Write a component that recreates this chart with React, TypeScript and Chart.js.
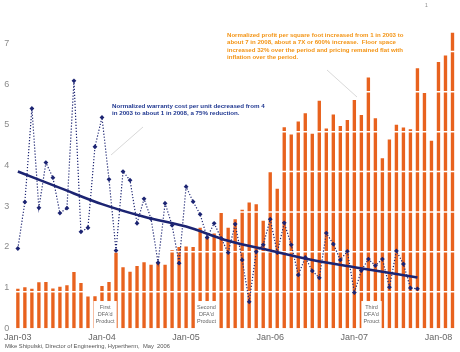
import React, { useEffect, useRef } from 'react';
import { Chart, registerables } from 'chart.js';

Chart.register(...registerables);

// ---------- data ----------
const monthNames = ['Jan', 'Feb', 'Mar', 'Apr', 'May', 'Jun', 'Jul', 'Aug', 'Sep', 'Oct', 'Nov', 'Dec'];
const yearSuffixes = ['03', '04', '05', '06', '07', '08'];
const monthCount = 63;

const categories: string[] = [];
yearSuffixes.forEach((y) => monthNames.forEach((m) => categories.push(`${m}-${y}`)));
categories.length = monthCount;

// Normalized profit per square foot (orange bars)
const profitPerSqFt = [
  0.97, 1.01, 0.97, 1.13, 1.14, 0.98, 1.02, 1.06, 1.38, 1.11, 0.78, 0.79,
  1.04, 1.14, 1.86, 1.5, 1.39, 1.53, 1.62, 1.56, 1.62, 1.56, 1.92, 2.0,
  2.01, 2.0, 2.47, 2.23, 2.33, 2.83, 2.47, 2.68, 2.91, 3.09, 3.05, 2.64,
  3.84, 3.43, 4.94, 4.76, 5.08, 5.28, 4.78, 5.59, 4.91, 5.25, 4.97, 5.12,
  5.61, 5.24, 6.16, 5.16, 4.18, 4.64, 5.0, 4.93, 4.89, 6.39, 5.78, 4.61,
  6.54, 6.7, 7.26,
];

// Normalized warranty cost per unit (dotted navy line)
const warrantyCost = [
  1.96, 3.1, 5.4, 2.96, 4.07, 3.7, 2.83, 2.95, 6.08, 2.37, 2.47, 4.46,
  5.18, 3.66, 1.91, 3.85, 3.64, 2.58, 3.18, 2.69, 1.61, 3.07, 2.53, 1.6,
  3.48, 3.11, 2.8, 2.23, 2.58, 2.21, 1.86, 2.56, 1.68, 0.65, 1.88, 2.05,
  2.68, 1.86, 2.59, 2.05, 1.31, 1.74, 1.41, 1.24, 2.34, 2.07, 1.68, 1.89,
  0.88, 1.42, 1.7, 1.54, 1.7, 1.01, 1.9, 1.58, 0.99, 0.97,
];

// Trend curve (read at a few months)
const trendMonthIdx = [0, 6, 12, 18, 24, 30, 36, 42, 48, 57];
const trendValues = [3.85, 3.45, 3.05, 2.74, 2.5, 2.15, 1.91, 1.68, 1.5, 1.25];

const yTicks = [0, 1, 2, 3, 4, 5, 6, 7];
// white separator lines across the bars (in y-axis units)
const barBandLines = [0.9, 1.88, 2.86, 3.85, 4.83, 5.81, 6.8];

// product annotations
const productBoxNames = [
  ['First', "DFA'd", 'Product'],
  ['Second', "DFA'd", 'Product'],
  ['Third', "DFA'd", 'Prouct'],
];
const productBoxFrom = [10.8, 25.4, 49.0];
const productBoxTo = [14.1, 28.4, 51.9];
const productBoxTop = 0.67;

const profitNote = [
  'Normalized profit per square foot increased from 1 in 2003 to',
  'about 7 in 2008, about a 7X or 600% increase.  Floor space',
  'increased 32% over the period and pricing remained flat with',
  'inflation over the period.',
];
const warrantyNote = [
  'Normalized warranty cost per unit decreased from 4',
  'in 2003 to about 1 in 2008, a 75% reduction.',
];
const sourceNote = 'Mike Shipulski, Director of Engineering, Hypertherm,  May  2006';

const FONT = 'Arial, "Liberation Sans", Helvetica, sans-serif';
const ORANGE_BAR = '#E8621E';
const ORANGE_TEXT = '#F39415';
const NAVY = '#1C2472';
const BLUE_TEXT = '#1F3790';

const overlayPlugin = {
  id: 'overlay',
  afterDatasetDraw(chart: any, args: any) {
    if (args.index !== 0) return;
    const { ctx, chartArea } = chart;
    const x = chart.scales.x;
    const y = chart.scales.y;
    ctx.save();
    ctx.strokeStyle = '#ffffff';
    ctx.lineWidth = 1.5;
    barBandLines.forEach((v) => {
      const py = y.getPixelForValue(v);
      ctx.beginPath();
      ctx.moveTo(chartArea.left, py);
      ctx.lineTo(chartArea.right, py);
      ctx.stroke();
    });
    productBoxNames.forEach((lines, i) => {
      const x0 = x.getPixelForValue(productBoxFrom[i]);
      const x1 = x.getPixelForValue(productBoxTo[i]);
      const y0 = y.getPixelForValue(productBoxTop);
      const y1 = y.getPixelForValue(0) + 1;
      ctx.fillStyle = '#ffffff';
      ctx.fillRect(x0, y0, x1 - x0, y1 - y0);
      ctx.fillStyle = '#666666';
      ctx.font = `5.5px ${FONT}`;
      ctx.textAlign = 'center';
      ctx.textBaseline = 'middle';
      const cx = (x0 + x1) / 2;
      lines.forEach((t, k) => ctx.fillText(t, cx, y0 + 6.5 + k * 7));
    });
    ctx.restore();
  },
  afterDraw(chart: any) {
    const { ctx } = chart;
    ctx.save();
    ctx.strokeStyle = 'rgba(200,200,200,0.7)';
    ctx.lineWidth = 1;
    ctx.beginPath();
    ctx.moveTo(143, 127);
    ctx.lineTo(111, 155);
    ctx.moveTo(327, 70);
    ctx.lineTo(357, 97);
    ctx.stroke();

    ctx.textAlign = 'left';
    ctx.textBaseline = 'middle';
    ctx.font = `bold 6.1px ${FONT}`;
    ctx.fillStyle = ORANGE_TEXT;
    profitNote.forEach((t, i) => ctx.fillText(t, 227, 35 + i * 7.6));
    ctx.fillStyle = BLUE_TEXT;
    ctx.font = `bold 6.2px ${FONT}`;
    warrantyNote.forEach((t, i) => ctx.fillText(t, 112, 106.7 + i * 7));
    ctx.font = `5.8px ${FONT}`;
    ctx.fillStyle = '#555555';
    ctx.fillText(sourceNote, 5, 346.5);
    ctx.font = `5px ${FONT}`;
    ctx.fillStyle = '#888888';
    ctx.fillText('1', 425, 6);
    ctx.restore();
  },
};

export default function App() {
  const ref = useRef<HTMLCanvasElement>(null);
  useEffect(() => {
    if (!ref.current) return;
    const chart = new Chart(ref.current, {
      type: 'bar',
      data: {
        labels: categories,
        datasets: [
          {
            type: 'bar',
            label: 'Profit per sq ft',
            data: profitPerSqFt,
            backgroundColor: ORANGE_BAR,
            borderWidth: 0,
            categoryPercentage: 1,
            barPercentage: 0.48,
            order: 3,
          } as any,
          {
            type: 'line',
            label: 'Warranty cost',
            data: warrantyCost,
            borderColor: NAVY,
            borderWidth: 1.2,
            borderDash: [1.2, 1.8],
            pointStyle: 'rectRot',
            pointRadius: 2.4,
            pointBackgroundColor: NAVY,
            pointBorderColor: NAVY,
            pointBorderWidth: 0,
            tension: 0,
            fill: false,
            order: 2,
          } as any,
          {
            type: 'line',
            label: 'Trend',
            data: trendMonthIdx.map((m, i) => ({ x: categories[m], y: trendValues[i] })),
            borderColor: NAVY,
            borderWidth: 2.6,
            pointRadius: 0,
            cubicInterpolationMode: 'monotone',
            fill: false,
            order: 1,
          } as any,
        ],
      },
      options: {
        responsive: false,
        animation: false,
        layout: { padding: { top: 23, right: 2, left: 0, bottom: 0 } },
        plugins: { legend: { display: false }, tooltip: { enabled: false } },
        scales: {
          x: {
            type: 'category',
            offset: true,
            grid: { display: false, drawTicks: false },
            border: { display: false },
            ticks: {
              autoSkip: false,
              maxRotation: 0,
              minRotation: 0,
              padding: 4,
              color: '#666666',
              font: { size: 9, family: FONT },
              callback: (_v: any, i: number) => (categories[i].startsWith('Jan') ? categories[i] : ''),
            },
            afterFit: (s: any) => {
              s.height = 23.7;
            },
          },
          y: {
            min: 0,
            max: 7.5,
            grid: { display: false, drawTicks: false },
            border: { display: false },
            ticks: { stepSize: 1, padding: 5, color: '#8a8a8a', font: { size: 9, family: FONT } },
            afterBuildTicks: (s: any) => {
              s.ticks = yTicks.map((v) => ({ value: v }));
            },
            afterFit: (s: any) => {
              s.width = 13.2;
            },
          },
        },
      } as any,
      plugins: [overlayPlugin],
    });
    return () => chart.destroy();
  }, []);
  return (
    <div style={{ position: 'fixed', left: 0, top: 0, width: 460, height: 352, background: '#ffffff' }}>
      <canvas ref={ref} width={460} height={352} style={{ width: 460, height: 352, display: 'block' }} />
    </div>
  );
}
